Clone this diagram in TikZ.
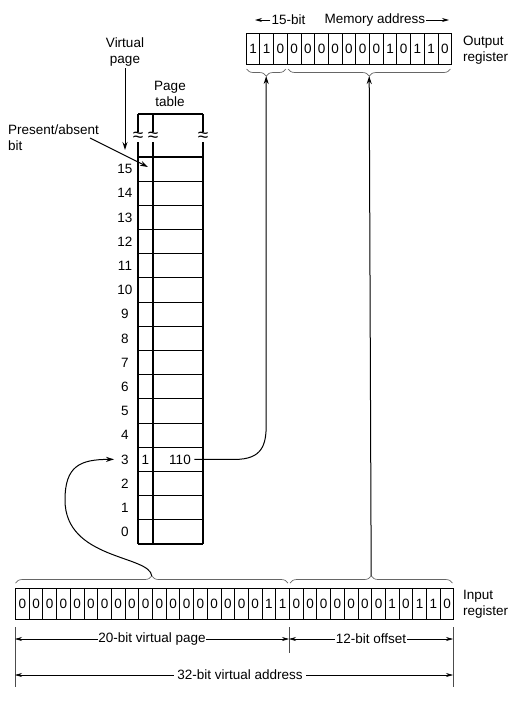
\documentclass[tikz,border=0pt]{standalone}
\usepackage{fontspec}
\setmainfont{Liberation Sans}
\usetikzlibrary{arrows.meta,decorations.pathreplacing}
\begin{document}
\begin{tikzpicture}[x=1pt,y=-1pt,
  every node/.style={font=\fontsize{13.5}{15.5}\selectfont},
  bitcell/.style={draw,line width=1pt,minimum width=13.7pt,minimum height=31pt,inner sep=0pt,anchor=north west},
  arr/.style={line width=1pt,-{Stealth[length=8pt,width=5pt]}},
  sarr/.style={line width=0.8pt,-{Stealth[length=7pt,width=4pt]}},
  dimarr/.style={line width=0.6pt,{Stealth[length=7pt,width=4pt]}-{Stealth[length=7pt,width=4pt]}},
  brc/.style={decorate,decoration={brace,amplitude=7pt},line width=0.7pt,draw=black!60},
  brcm/.style={decorate,decoration={brace,mirror,amplitude=7pt},line width=0.7pt,draw=black!60},
  tbl/.style={line width=1.1pt},
  tick/.style={line width=0.6pt,draw=black!70},
  lbl/.style={align=left,anchor=west,inner sep=0pt},
  rowlbl/.style={inner sep=1pt},
  approx/.style={fill=white,inner sep=0.3pt,font=\fontsize{19}{20}\selectfont}
]
\useasboundingbox (0,0) rectangle (517,702);

% output register
\foreach \b [count=\i from 0] in {1,1,0,0,0,0,0,0,0,0,1,0,1,1,0}
  \node[bitcell] (o\i) at ({245.7+13.7*\i},33) {\b};
\node[lbl] (outlbl) at (463,50) {Output\\register};

% top label
\node[inner sep=1pt] (b15) at (288.5,20) {15-bit};
\node[inner sep=1pt] (madr) at (375,20) {Memory address};
\coordinate (la) at (255,20);
\coordinate (ra) at (449,20);
\draw[sarr] (b15.west) -- (la);
\draw[sarr] (madr.east) -- (ra);

% output braces
\draw[brcm] (246.5,69) -- (286,69);
\draw[brcm] (288,69) -- (450.5,69);
\coordinate (otA) at (266.2,76);
\coordinate (otB) at (369.2,76);

% input register
\foreach \b [count=\i from 0] in {0,0,0,0,0,0,0,0,0,0,0,0,0,0,0,0,0,0,1,1,0,0,0,0,0,0,0,1,0,1,1,0}
  \node[bitcell] (n\i) at ({15+13.7*\i},588) {\b};
\node[lbl] (inlbl) at (463,604) {Input\\register};

% input braces
\draw[brc] (15.5,583) -- (288,583);
\draw[brc] (290,583) -- (452.5,583);
\coordinate (itA) at (151.8,576);
\coordinate (itB) at (371.2,576);

% page table
\draw[tbl] (138,114) -- (203,114);
\foreach \x in {138,153,203} \draw[tbl] (\x,114) -- (\x,544);
\foreach \k in {0,...,16} \draw[tbl] (138,{157+24.1875*\k}) -- (203,{157+24.1875*\k});
\foreach \x [count=\j] in {138,153,203} \node[approx] (ap\j) at (\x,137) {≈};
\foreach \n in {0,...,15}
  \node[rowlbl] (rl\n) at (125,{157+24.1875*(15-\n)+12.1}) {\n};
\node (pb3) at (145.5,459.4) {1};
\node (pf3) at (180,459.4) {110};

% labels
\node[align=center,inner sep=2pt] (vp) at (125,52) {Virtual\\page};
\coordinate (vpe) at (125,150);
\draw[arr] (vp.south) -- (vpe);
\node[align=center] (ptl) at (170,94) {Page\\table};
\node[lbl] (pa) at (8,137.5) {Present/absent\\bit};
\coordinate (pas) at (90,138);
\coordinate (pae) at (148,167);
\draw[arr] (pas) -- (pae);

% connectors
\draw[arr] (pf3.east) -- (235,459.4) .. controls (262,459.4) and (266.2,445) .. (266.2,425) -- (otA);
\draw[arr] (itB) -- (otB);
\draw[arr,shorten >=6pt] (itA) .. controls (150,555) and (65,560) .. (65,500) .. controls (65,466) and (80,459.4) .. (rl3.west);

% dimension lines
\coordinate (d1) at (15,627); \coordinate (d1e) at (15,687);
\coordinate (d2) at (289,627); \coordinate (d2e) at (289,653);
\coordinate (d3) at (453,627); \coordinate (d3e) at (453,687);
\draw[tick] (d1) -- (d1e);
\draw[tick] (d2) -- (d2e);
\draw[tick] (d3) -- (d3e);
\coordinate (a1) at (15,639); \coordinate (a2) at (289,639); \coordinate (a3) at (453,639);
\draw[dimarr] (a1) -- (a2) node[midway,fill=white,inner sep=0.5pt] (t20) {20-bit virtual page};
\draw[dimarr] (a2) -- (a3) node[midway,fill=white,inner sep=0.5pt] (t12) {12-bit offset};
\coordinate (b1) at (15,675); \coordinate (b3) at (453,675);
\draw[dimarr] (b1) -- (b3);
\node[fill=white,inner sep=3pt] (t32) at (240,675) {32-bit virtual address};
\end{tikzpicture}
\end{document}
